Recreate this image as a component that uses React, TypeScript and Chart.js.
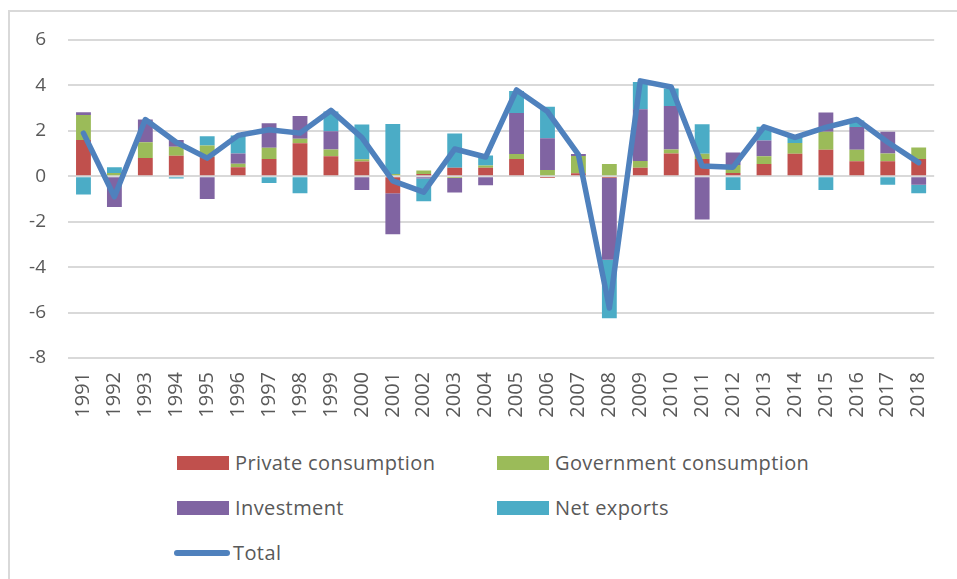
import { useEffect, useRef } from "react";
import { Chart, registerables } from "chart.js";

Chart.register(...registerables);

const years = [
  "1991", "1992", "1993", "1994", "1995", "1996", "1997", "1998", "1999", "2000",
  "2001", "2002", "2003", "2004", "2005", "2006", "2007", "2008", "2009", "2010",
  "2011", "2012", "2013", "2014", "2015", "2016", "2017", "2018",
];

const privateConsumption = [
  1.6, 0.05, 0.8, 0.9, 0.86, 0.4, 0.76, 1.45, 0.88, 0.65,
  -0.75, 0.1, 0.38, 0.38, 0.76, -0.07, 0.13, -0.07, 0.38, 1.0,
  0.76, 0.15, 0.54, 0.99, 1.17, 0.66, 0.66, 0.76,
];

const governmentConsumption = [
  1.1, 0.1, 0.7, 0.4, 0.5, 0.15, 0.5, 0.2, 0.3, 0.1,
  0.1, 0.15, -0.08, 0.1, 0.22, 0.28, 0.76, 0.54, 0.29, 0.18,
  0.23, 0.35, 0.34, 0.47, 0.79, 0.51, 0.34, 0.51,
];

const investment = [
  0.12, -1.35, 1.0, 0.3, -1.0, 0.45, 1.08, 1.0, 0.8, -0.6,
  -1.8, -0.1, -0.63, -0.4, 1.81, 1.39, 0.09, -3.6, 2.28, 1.91,
  -1.9, 0.55, 0.69, 0, 0.85, 1.0, 0.96, -0.37,
];

const netExports = [
  -0.8, 0.25, 0, -0.1, 0.4, 0.8, -0.3, -0.75, 0.87, 1.53,
  2.2, -1.0, 1.5, 0.44, 0.96, 1.39, 0, -2.58, 1.2, 0.77,
  1.3, -0.6, 0.61, 0.28, -0.6, 0.29, -0.37, -0.38,
];

const total = [
  1.9, -0.9, 2.5, 1.5, 0.8, 1.8, 2.05, 1.9, 2.9, 1.7,
  -0.2, -0.7, 1.2, 0.85, 3.8, 2.85, 0.95, -5.8, 4.2, 3.93,
  0.45, 0.4, 2.18, 1.71, 2.15, 2.5, 1.5, 0.6,
];

const yTicks = [-8, -6, -4, -2, 0, 2, 4, 6];

const COLORS = {
  private: "#C0504D",
  government: "#9BBB59",
  investment: "#8064A2",
  net: "#4BACC6",
  total: "#4F81BD",
};

const TEXT = "#595959";
const FONT = "'Open Sans', 'Noto Sans', sans-serif";

export default function App() {
  const ref = useRef<HTMLCanvasElement>(null);

  useEffect(() => {
    const barCommon = {
      type: "bar" as const,
      barPercentage: 0.48,
      categoryPercentage: 1,
      stack: "bars",
      order: 2,
    };
    const chart = new Chart(ref.current!, {
      type: "bar",
      data: {
        labels: years,
        datasets: [
          { ...barCommon, label: "Private consumption", data: privateConsumption, backgroundColor: COLORS.private },
          { ...barCommon, label: "Government consumption", data: governmentConsumption, backgroundColor: COLORS.government },
          { ...barCommon, label: "Investment", data: investment, backgroundColor: COLORS.investment },
          { ...barCommon, label: "Net exports", data: netExports, backgroundColor: COLORS.net },
          {
            type: "line" as const,
            label: "Total",
            data: total,
            borderColor: COLORS.total,
            backgroundColor: COLORS.total,
            borderWidth: 5.5,
            pointRadius: 0,
            tension: 0,
            borderCapStyle: "round",
            borderJoinStyle: "round",
            stack: "total",
            order: 0,
          } as any,
        ],
      },
      options: {
        animation: false,
        responsive: false,
        layout: { padding: { top: 40, right: 17, left: 0, bottom: 0 } },
        plugins: { legend: { display: false }, tooltip: { enabled: false } },
        scales: {
          x: {
            stacked: true,
            grid: { display: false, drawTicks: false },
            border: { display: false },
            ticks: {
              color: TEXT,
              font: { family: FONT, size: 20 },
              minRotation: 90,
              maxRotation: 90,
              autoSkip: false,
              padding: 14,
            },
            afterFit: (s: any) => {
              s.height = 82;
            },
          },
          y: {
            stacked: true,
            min: -8,
            max: 6,
            afterBuildTicks: (s: any) => {
              s.ticks = yTicks.map((v) => ({ value: v }));
            },
            grid: { color: "#d9d9d9", lineWidth: 2, drawTicks: false },
            border: { display: false },
            ticks: {
              color: TEXT,
              font: { family: FONT, size: 19 },
              padding: 22,
            },
            afterFit: (s: any) => {
              s.width = 68;
            },
          },
        },
      },
    });
    return () => chart.destroy();
  }, []);

  const legendText: React.CSSProperties = {
    position: "absolute",
    fontFamily: FONT,
    fontSize: 20,
    letterSpacing: "0.4px",
    color: TEXT,
    lineHeight: "24px",
    whiteSpace: "nowrap",
  };

  const swatch = (left: number, cy: number, color: string) => (
    <div
      style={{
        position: "absolute",
        left,
        top: cy - 7,
        width: 52,
        height: 14,
        background: color,
      }}
    />
  );

  return (
    <div
      style={{
        position: "absolute",
        left: 0,
        top: 0,
        width: 957,
        height: 579,
        background: "#fff",
        overflow: "hidden",
      }}
    >
      <div
        style={{
          position: "absolute",
          left: 8,
          top: 10,
          width: 980,
          height: 600,
          borderLeft: "2px solid #d9d9d9",
          borderTop: "2px solid #d9d9d9",
        }}
      />
      <canvas
        ref={ref}
        width={957}
        height={440}
        style={{ position: "absolute", left: 0, top: 0, width: 957, height: 440 }}
      />
      {swatch(177, 463, COLORS.private)}
      <div style={{ ...legendText, left: 235, top: 463 - 12 }}>Private consumption</div>
      {swatch(497, 463, COLORS.government)}
      <div style={{ ...legendText, left: 555, top: 463 - 12 }}>Government consumption</div>
      {swatch(177, 508, COLORS.investment)}
      <div style={{ ...legendText, left: 235, top: 508 - 12 }}>Investment</div>
      {swatch(497, 508, COLORS.net)}
      <div style={{ ...legendText, left: 555, top: 508 - 12 }}>Net exports</div>
      <div
        style={{
          position: "absolute",
          left: 174,
          top: 553 - 3,
          width: 56,
          height: 6,
          borderRadius: 3,
          background: COLORS.total,
        }}
      />
      <div style={{ ...legendText, left: 233, top: 553 - 12 }}>Total</div>
    </div>
  );
}
